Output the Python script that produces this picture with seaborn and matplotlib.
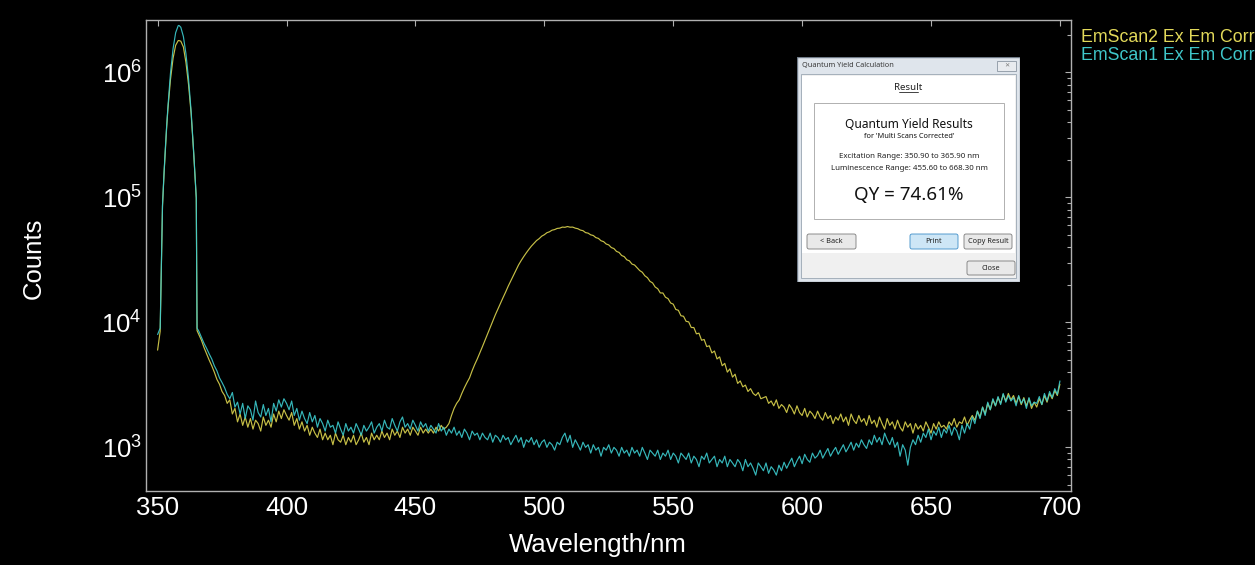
import numpy as np
import pandas as pd
import matplotlib
matplotlib.use("Agg")
import matplotlib.pyplot as plt
from matplotlib.patches import Rectangle, FancyBboxPatch
from matplotlib.ticker import FixedLocator, NullLocator, LogLocator
import seaborn as sns

# ---------------- data ----------------
wl_peak = [350.0, 351.0, 351.9, 352.5, 353.0, 353.5, 354.0, 355.0, 356.0, 357.0,
           358.0, 358.3, 359.0, 360.0, 361.0, 362.0, 363.0, 364.0, 364.7, 365.0, 365.3]
scan1_peak = [8000, 9000, 87000, 158000, 247000, 370000, 530000, 990000, 1550000, 2080000,
              2370000, 2380000, 2300000, 1940000, 1410000, 890000, 490000, 230000, 127000, 100000, 9000]
scan2_peak = [6000, 8500, 85000, 155000, 240000, 360000, 510000, 880000, 1300000, 1650000,
              1800000, 1800000, 1780000, 1600000, 1200000, 800000, 470000, 225000, 125000, 98000, 8600]

wl_main = list(range(366, 701))

scan1_main = [
    8500, 7600, 6800, 6200, 5600, 5100, 4500, 4100, 3600, 3300,
    3000, 2650, 2450, 2750, 2100, 2300, 1850, 2250, 1700, 2150,
    2000, 1650, 2350, 1900, 1750, 2200, 1800, 2050, 1600, 2250,
    1950, 2400, 2100, 2450, 2250, 2000, 2350, 1800, 2050, 1650,
    1950, 1700, 1550, 1900, 1600, 1800, 1450, 1700, 1550, 1350,
    1650, 1450, 1500, 1300, 1600, 1400, 1250, 1550, 1350, 1450,
    1300, 1550, 1400, 1250, 1500, 1350, 1450, 1600, 1300, 1450,
    1550, 1350, 1650, 1450, 1400, 1700, 1500, 1350, 1600, 1750,
    1450, 1550, 1400, 1650, 1500, 1350, 1600, 1450, 1550, 1350,
    1500, 1400, 1300, 1550, 1350, 1450, 1250, 1400, 1300, 1450,
    1250, 1350, 1200, 1400, 1300, 1150, 1350, 1250, 1300, 1150,
    1300, 1200, 1150, 1300, 1100, 1250, 1200, 1100, 1250, 1150,
    1200, 1050, 1150, 1250, 1100, 1200, 1000, 1150, 1100, 1200,
    1050, 1150, 1000, 1100, 1150, 1000, 1100, 1050, 950, 1100,
    1050, 1200, 1300, 1100, 1250, 1000, 1150, 1050, 950, 1100,
    1000, 1050, 900, 1050, 950, 1000, 850, 1000, 950, 1050,
    900, 1000, 950, 850, 1000, 900, 950, 850, 1000, 900,
    950, 850, 1000, 900, 800, 950, 900, 850, 950, 800,
    900, 850, 950, 800, 900, 850, 750, 900, 850, 800,
    900, 750, 850, 800, 700, 850, 800, 900, 750, 800,
    850, 700, 800, 750, 850, 700, 800, 750, 700, 800,
    750, 650, 800, 700, 750, 680, 600, 750, 700, 650,
    750, 620, 700, 660, 600, 720, 650, 760, 680, 750,
    820, 700, 780, 850, 740, 880, 800, 760, 900, 820,
    860, 950, 820, 900, 980, 850, 930, 1000, 880, 960,
    1050, 920, 1000, 1100, 950, 1080, 1000, 1150, 1050, 980,
    1150, 1050, 1250, 1100, 1200, 1050, 1300, 1150, 1050, 1200,
    1000, 1100, 850, 1050, 950, 720, 1000, 1150, 1050, 1250,
    1100, 1300, 1200, 1400, 1150, 1350, 1250, 1450, 1200, 1400,
    1300, 1500, 1250, 1450, 1350, 1150, 1500, 1300, 1550, 1400,
    1750, 1550, 1950, 1700, 2100, 1800, 2300, 2000, 2450, 2150,
    2550, 2200, 2700, 2300, 2600, 2350, 2500, 2150, 2600, 2250,
    2450, 2050, 2500, 2150, 2300, 2250, 2550, 2200, 2700, 2350,
    2800, 2500, 2950, 2650, 3400,
]

scan2_main = [
    8000, 7200, 6300, 5600, 5000, 4500, 4000, 3500, 3200, 2800,
    2600, 2250, 2400, 1850, 2050, 1600, 1850, 1500, 1750, 1450,
    1700, 1400, 1650, 1550, 1350, 1750, 1500, 1650, 1450, 1850,
    1600, 1950, 1700, 2000, 1800, 1650, 1900, 1500, 1700, 1400,
    1600, 1350, 1500, 1250, 1450, 1300, 1200, 1400, 1150, 1300,
    1150, 1250, 1050, 1300, 1150, 1100, 1250, 1050, 1200, 1100,
    1250, 1050, 1150, 1300, 1100, 1200, 1050, 1300, 1150, 1250,
    1150, 1350, 1200, 1300, 1150, 1400, 1250, 1350, 1200, 1450,
    1300, 1400, 1250, 1450, 1350, 1250, 1450, 1300, 1400, 1300,
    1400, 1300, 1450, 1350, 1500, 1400, 1450, 1550, 1800, 2050,
    2250, 2400, 2700, 3000, 3300, 3600, 4100, 4600, 5100, 5700,
    6400, 7200, 8100, 9100, 10200, 11500, 12800, 14200, 15800, 17500,
    19500, 21500, 23800, 26200, 28800, 31200, 33600, 36000, 38400, 40800,
    43000, 45200, 46800, 49000, 50300, 52200, 53100, 54700, 55300, 56500,
    56800, 57900, 57700, 58500, 57800, 57900, 56800, 56200, 54800, 54200,
    52300, 51800, 50200, 49600, 47700, 47000, 45000, 44300, 42400, 41700,
    39700, 39000, 37000, 36300, 34300, 33600, 31700, 31100, 29300, 28800,
    27400, 26000, 25200, 23600, 22800, 21300, 20700, 19200, 18600, 17200,
    17200, 15900, 15500, 14300, 14000, 12700, 12500, 11300, 11200, 10200,
    10100, 9100, 9100, 8100, 8200, 7200, 7300, 6400, 6500, 5700,
    5900, 5100, 5300, 4500, 4700, 4000, 4250, 3650, 3850, 3250,
    3400, 3050, 3150, 2800, 2950, 2700, 2600, 2750, 2450, 2500,
    2550, 2250, 2350, 2150, 2400, 2050, 2200, 2100, 1900, 2200,
    2050, 1850, 2150, 1900, 1800, 2050, 1750, 1950, 1850, 1700,
    1950, 1750, 1650, 1900, 1700, 1800, 1550, 1750, 1650, 1850,
    1600, 1750, 1500, 1850, 1650, 1550, 1800, 1600, 1700, 1500,
    1800, 1550, 1650, 1450, 1750, 1550, 1400, 1700, 1500, 1600,
    1400, 1650, 1450, 1350, 1600, 1450, 1550, 1300, 1550, 1400,
    1500, 1350, 1600, 1450, 1300, 1550, 1400, 1600, 1450, 1500,
    1400, 1600, 1500, 1700, 1450, 1600, 1550, 1750, 1500, 1650,
    1800, 1650, 1950, 1750, 2100, 1850, 2250, 2000, 2400, 2150,
    2500, 2250, 2650, 2350, 2700, 2400, 2600, 2250, 2550, 2200,
    2500, 2150, 2450, 2050, 2300, 2100, 2450, 2200, 2600, 2300,
    2700, 2450, 2850, 2600, 3200,
]

series_names = ["EmScan2 Ex Em Corr", "EmScan1 Ex Em Corr"]
x_ticks = [350, 400, 450, 500, 550, 600, 650, 700]

assert len(scan1_main) == len(wl_main) and len(scan2_main) == len(wl_main)

wl = wl_peak + wl_main
df = pd.DataFrame({
    "Wavelength": wl + wl,
    "Counts": scan2_peak + scan2_main + scan1_peak + scan1_main,
    "Series": [series_names[0]] * len(wl) + [series_names[1]] * len(wl),
})

# ---------------- style ----------------
sns.set_style("dark", rc={"axes.facecolor": "black", "figure.facecolor": "black"})
plt.rcParams["font.family"] = ["Liberation Sans", "DejaVu Sans"]
plt.rcParams["mathtext.fontset"] = "custom"
plt.rcParams["mathtext.rm"] = "Liberation Sans"
plt.rcParams["mathtext.it"] = "Liberation Sans"

YELLOW = "#dcd44e"
CYAN = "#3ccbce"

W, H = 1255, 565
fig = plt.figure(figsize=(W / 100, H / 100), dpi=100, facecolor="black")
ax_l, ax_r, ax_t, ax_b = 146, 1071, 20, 490.7
ax = fig.add_axes([ax_l / W, 1 - ax_b / H, (ax_r - ax_l) / W, (ax_b - ax_t) / H])
ax.set_facecolor("black")

sns.lineplot(data=df, x="Wavelength", y="Counts", hue="Series",
             palette={series_names[0]: YELLOW, series_names[1]: CYAN},
             estimator=None, sort=False, lw=0.85, alpha=0.9, ax=ax, legend=False)

ax.set_yscale("log")
ax.set_xlim(345.5, 704.3)
ax.set_ylim(450, 2.63e6)
ax.xaxis.set_major_locator(FixedLocator(x_ticks))
ax.xaxis.set_minor_locator(NullLocator())
ax.yaxis.set_major_locator(LogLocator(base=10))
ax.yaxis.set_minor_locator(LogLocator(base=10, subs=np.arange(2, 10)))
ax.grid(False)

for s in ax.spines.values():
    s.set_color("#b0b0b0")
    s.set_linewidth(1.0)
    s.set_visible(True)

ax.tick_params(which="both", direction="in", top=True, right=True,
               color="#b0b0b0", labelcolor="white", width=0.8)
ax.tick_params(which="major", length=4.5, labelsize=18.5)
ax.tick_params(axis="x", which="major", pad=3.5)
ax.tick_params(axis="y", which="major", pad=3)
ax.tick_params(which="minor", length=2.8)

ax.set_xlabel("Wavelength/nm", fontsize=18.5, color="white")
ax.set_ylabel("Counts", fontsize=18.5, color="white")
ax.xaxis.set_label_coords((598 - ax_l) / (ax_r - ax_l), (ax_b - 545) / (ax_b - ax_t))
ax.xaxis.label.set_va("center")
ax.yaxis.set_label_coords((34 - ax_l) / (ax_r - ax_l), (ax_b - 258) / (ax_b - ax_t))
ax.yaxis.label.set_va("center")

# legend as coloured text outside the axes
fig.text(1081 / W, 1 - 37 / H, series_names[0], color="#e2d95a", fontsize=12.8,
         ha="left", va="center")
fig.text(1081 / W, 1 - 56 / H, series_names[1], color="#3fc6c9", fontsize=12.8,
         ha="left", va="center")

# ---------------- result dialog inset ----------------
dx0, dy0, dw, dh = 797, 57, 223, 225
dax = fig.add_axes([dx0 / W, 1 - (dy0 + dh) / H, dw / W, dh / H])
dax.set_xlim(0, dw)
dax.set_ylim(dh, 0)
dax.axis("off")
UI = ["Noto Sans", "DejaVu Sans"]

dax.add_patch(Rectangle((0, 0), dw, dh, fc="#dfe5ec", ec="#707b88", lw=1.0))
dax.text(5, 8.5, "Quantum Yield Calculation", fontsize=5.3, color="#3a3a3a",
         family=UI, va="center", ha="left")
dax.add_patch(Rectangle((200, 3.5), 19, 10, fc="#e8ebef", ec="#8b96a2", lw=0.6))
dax.text(209.5, 8.5, "\u2715", fontsize=4.5, color="#7a7a7a", family=UI, ha="center", va="center")
dax.add_patch(Rectangle((4, 17), 215, 204, fc="#f0f0f0", ec="#9aa6b3", lw=0.6))
dax.add_patch(Rectangle((5, 19), 213, 177, fc="white", ec="none"))

dax.text(111, 30, "Result", fontsize=7, color="#222222", family=UI, ha="center", va="center")
dax.plot([101.5, 120.5], [35, 35], color="#222222", lw=0.6)

dax.add_patch(Rectangle((17, 46), 190, 116, fc="white", ec="#b0b0b0", lw=0.7))
dax.text(112, 67, "Quantum Yield Results", fontsize=8.6, color="#111111", family=UI,
         ha="center", va="center")
dax.text(112, 79, "for 'Multi Scans Corrected'", fontsize=5.3, color="#111111", family=UI,
         ha="center", va="center")
dax.text(112, 100, "Excitation Range: 350.90 to 365.90 nm", fontsize=5.7, color="#222222",
         family=UI, ha="center", va="center")
dax.text(112, 111, "Luminescence Range: 455.60 to 668.30 nm", fontsize=5.7, color="#222222",
         family=UI, ha="center", va="center")
dax.text(112, 138, "QY = 74.61%", fontsize=13.5, color="#111111", family=UI,
         ha="center", va="center")

def button(x, y, w, h, label, fc="#e9e9e9", ec="#7a7a7a"):
    dax.add_patch(FancyBboxPatch((x, y), w, h, boxstyle="round,pad=0,rounding_size=2",
                                 fc=fc, ec=ec, lw=0.6))
    dax.text(x + w / 2, y + h / 2, label, fontsize=5.3, color="#222222", family=UI,
             ha="center", va="center")

button(10, 177, 49, 15, "< Back")
button(113, 177, 48, 15, "Print", fc="#cde6f6", ec="#3c8dc8")
button(167, 177, 48, 15, "Copy Result")
button(170, 204, 48, 14, "Close")

fig.savefig("out.png", dpi=100, facecolor="black")
